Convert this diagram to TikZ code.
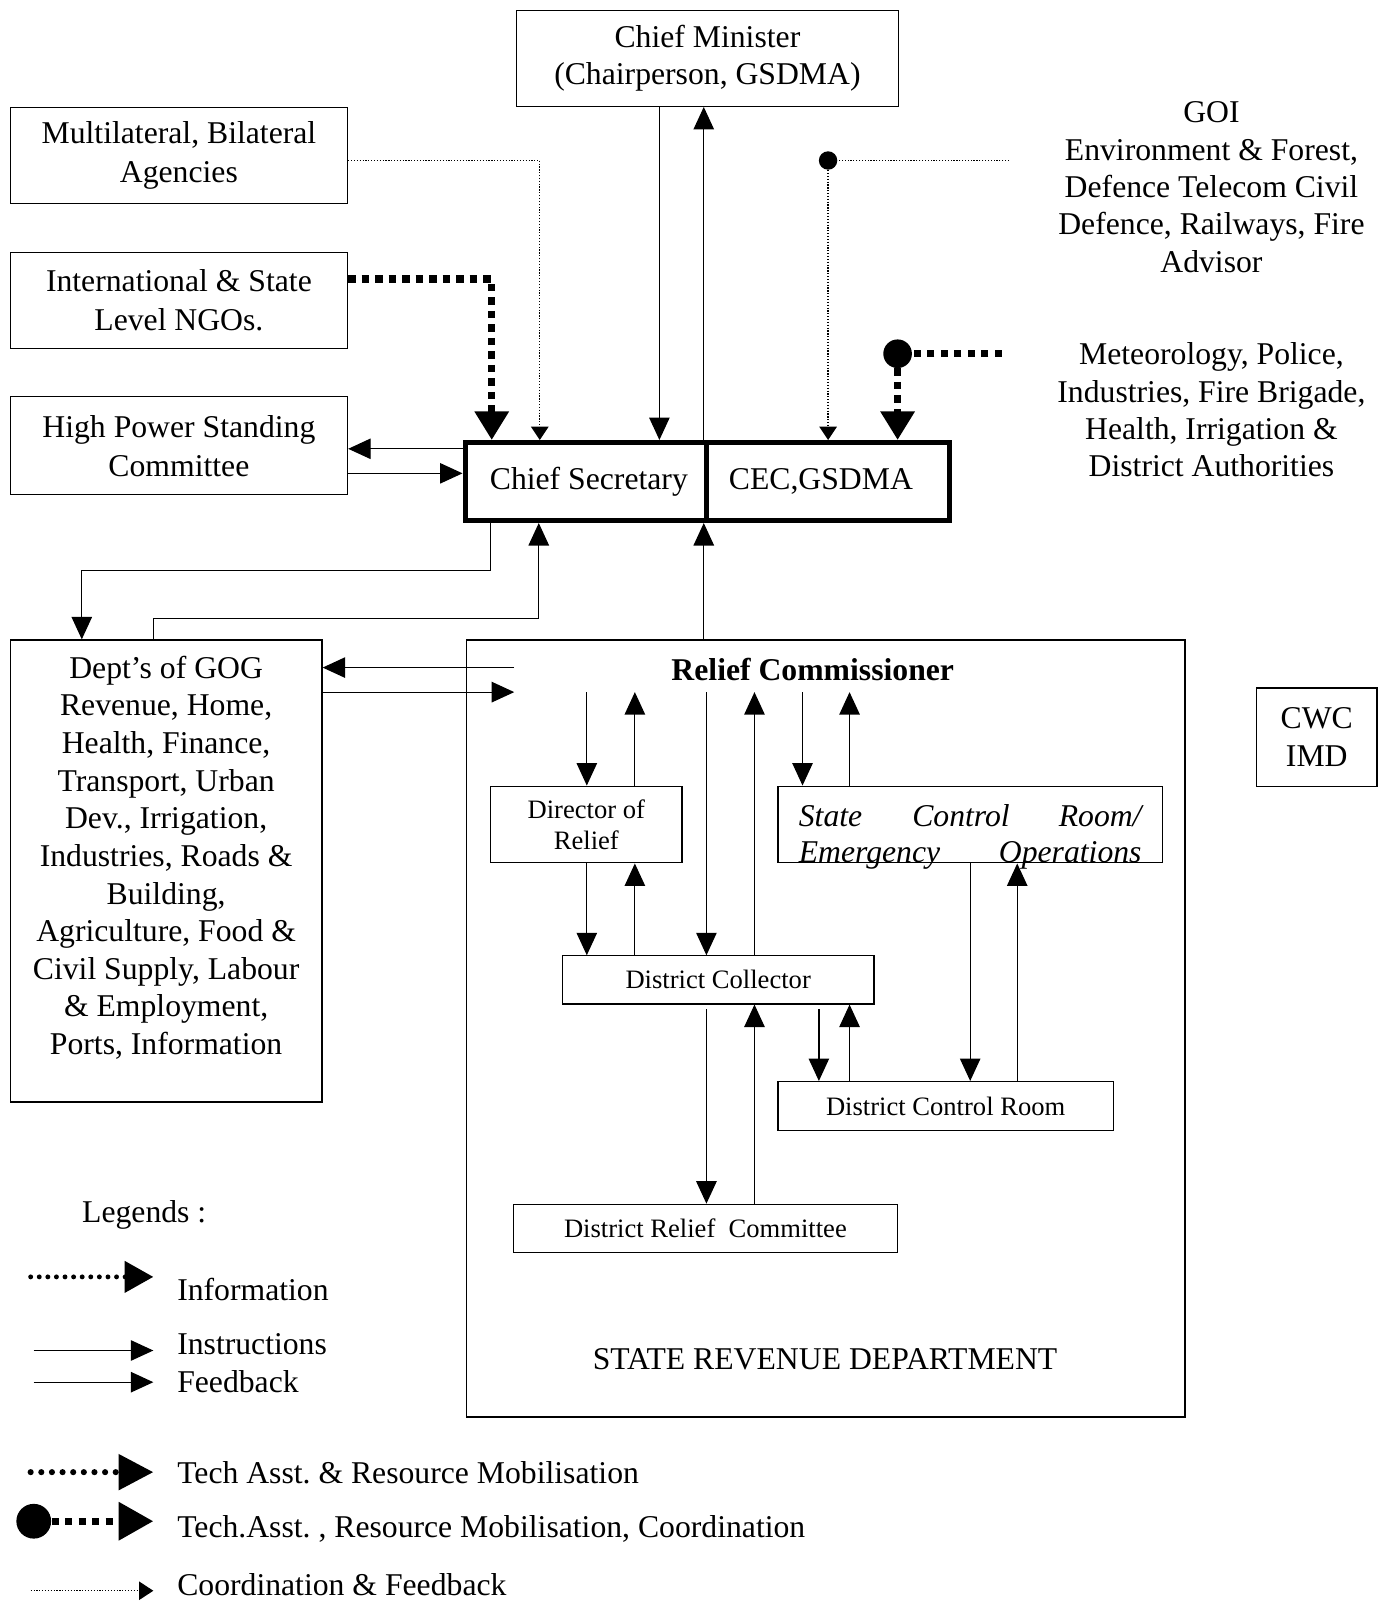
\documentclass[tikz,border=0pt]{standalone}
\usepackage{fontspec}
\setmainfont{Liberation Serif}
\usetikzlibrary{arrows.meta}
\newcommand{\mainfs}{\fontsize{15.5pt}{18.4pt}\selectfont}
\newcommand{\smallfs}{\fontsize{13pt}{15pt}\selectfont}
\frenchspacing
\begin{document}
\frenchspacing
\begin{tikzpicture}[x=0.5pt,y=-0.5pt,
  box/.style={draw, line width=0.6pt, inner sep=0pt, align=center, font=\mainfs},
  sbox/.style={box, font=\smallfs},
  tbox/.style={draw, line width=2.6pt, inner sep=0pt, align=center, font=\mainfs},
  txt/.style={inner sep=0pt, align=center, font=\mainfs},
  dot/.style={circle, fill, inner sep=0pt, minimum size=9pt},
  arr/.style={line width=0.6pt, -{Triangle[length=11pt,width=10pt]}},
  coordline/.style={line width=0.65pt, dash pattern=on 0.6pt off 0.8pt},
  coordarr/.style={coordline, -{Triangle[length=6.5pt,width=8.5pt]}},
  techline/.style={line width=3.6pt, dash pattern=on 3.6pt off 3pt},
  techarr/.style={techline, -{Triangle[length=14pt,width=16pt]}},
  infoline/.style={line width=2.4pt, line cap=round, dash pattern=on 0pt off 4.2pt},
]
\useasboundingbox (0,0) rectangle (1355,1568);

% helper x positions
\foreach \xx in {480,481,527,528,574,621,645,691,738,785,801,831,949,995}
  \coordinate (X\xx) at (\xx,0);
\coordinate (rcl) at (0,677);
\coordinate (dcl) at (0,987);

% top boxes
\node[box, minimum width=187pt, minimum height=47pt] (cm) at (692,57) {Chief Minister\\(Chairperson, GSDMA)};
\node[box, minimum width=165pt, minimum height=47pt, font=\fontsize{15.5pt}{19pt}\selectfont] (multi) at (175,152) {Multilateral, Bilateral\\Agencies};
\node[box, minimum width=165pt, minimum height=47pt, font=\fontsize{15.5pt}{19pt}\selectfont] (ngo) at (175,294) {International \& State\\Level NGOs.};
\node[box, minimum width=165pt, minimum height=48pt, font=\fontsize{15.5pt}{19pt}\selectfont] (hpsc) at (175,436) {High Power Standing\\Committee};
\node[tbox, minimum width=118pt, minimum height=38pt] (cs) at (573,471) {\hspace*{3pt}Chief Secretary};
\node[tbox, minimum width=119pt, minimum height=38pt] (cec) at (810,471) {CEC,GSDMA\hspace*{7pt}};

\node[txt, font=\fontsize{15.5pt}{18.3pt}\selectfont] (goi) at (1185,183) {GOI\\Environment \& Forest,\\Defence Telecom Civil\\Defence, Railways, Fire\\Advisor};
\node[txt, font=\fontsize{15.5pt}{18.2pt}\selectfont] (met) at (1185,401) {Meteorology, Police,\\Industries, Fire Brigade,\\Health, Irrigation \&\\District Authorities};

% Dept's of GOG
\node[box, minimum width=152.5pt, minimum height=226pt] (dept) at (162.5,852) {};
\node[txt] (depttxt) at (162.5,839) {Dept’s of GOG\\Revenue, Home,\\Health, Finance,\\Transport, Urban\\Dev., Irrigation,\\Industries, Roads \&\\Building,\\Agriculture, Food \&\\Civil Supply, Labour\\\& Employment,\\Ports, Information};

% State revenue department
\node[box, minimum width=351.5pt, minimum height=380pt] (srd) at (807.5,1006) {};
\node[txt, font=\mainfs\bfseries] (rc) at (795,655) {Relief Commissioner};
\node[txt] (srdt) at (807,1330) {STATE REVENUE DEPARTMENT};

\node[sbox, minimum width=93.5pt, minimum height=37.5pt] (dor) at (573.5,806.5) {Director of\\Relief};
\node[box, minimum width=188pt, minimum height=37.5pt] (scr) at (949,806.5) {};
\node[txt, font=\mainfs\itshape, anchor=base west] (scr1) at (781,808) {State};
\node[txt, font=\mainfs\itshape, anchor=base] (scr2) at (940,808) {Control};
\node[txt, font=\mainfs\itshape, anchor=base east] (scr3) at (1117,808) {Room/};
\node[txt, font=\mainfs\itshape, anchor=base west] (scr4) at (781,844) {Emergency};
\node[txt, font=\mainfs\itshape, anchor=base east] (scr5) at (1117,844) {Operations};
\node[sbox, minimum width=152.5pt, minimum height=23.5pt] (dc) at (702.5,958.5) {District Collector};
\node[sbox, minimum width=164pt, minimum height=24pt] (dcr) at (925,1082) {District Control Room};
\node[sbox, minimum width=188pt, minimum height=23.5pt] (drc) at (690,1201.5) {District Relief\ \ Committee};

\node[box, minimum width=59pt, minimum height=48pt, font=\fontsize{15.5pt}{19pt}\selectfont] (cwc) at (1288,721) {CWC\\IMD};

% connectors top
\draw[coordarr] ([yshift=-2.5pt]multi.east) -| (cs.north -| X528);
\draw[techarr] ([yshift=10.5pt]ngo.east) -| (cs.north -| X481);
\draw[arr] (cm.south -| X645) -- (cs.north -| X645);
\draw[arr] (cec.north west) -- (cm.south -| cec.north west);
\coordinate (gend) at (987,157);
\node[dot] (gdot) at (810,157) {};
\draw[coordline] (gend) -- (gdot);
\draw[coordarr] (gdot) -- (cec.north -| gdot);
\coordinate (mend) at (980,346);
\node[dot, minimum size=14pt] (mdot) at (878,346) {};
\draw[techline] (mend) -- (mdot);
\draw[techarr] (mdot) -- (cec.north -| mdot);
\draw[arr] ([yshift=16pt]cs.west) -- ([yshift=16pt]cs.west -| hpsc.east);
\draw[arr] ([yshift=4pt]cs.west -| hpsc.east) -- ([yshift=4pt]cs.west);

\coordinate (t1) at (80,558);
\draw[arr] (cs.south -| X480) |- (t1) -- (dept.north -| t1);
\coordinate (t2) at (150,605);
\coordinate (t3) at (527,605);
\draw[arr] (dept.north -| t2) -- (t2) -- (t3) -- (cs.south -| t3);
\draw[arr] (srd.north -| cec.south west) -- (cec.south west);

\coordinate (r1) at (503,653);
\coordinate (r2) at (503,677);
\draw[arr] (r1) -- (dept.east |- r1);
\draw[arr] (dept.east |- r2) -- (r2);

% inner connectors
\draw[arr] (rcl -| X574) -- (dor.north -| X574);
\draw[arr] (dor.north -| X621) -- (rcl -| X621);
\draw[arr] (rcl -| X691) -- (dc.north -| X691);
\draw[arr] (dc.north -| X738) -- (rcl -| X738);
\draw[arr] (rcl -| X785) -- (scr.north -| X785);
\draw[arr] (scr.north -| X831) -- (rcl -| X831);
\draw[arr] (dor.south -| X574) -- (dc.north -| X574);
\draw[arr] (dc.north -| X621) -- (dor.south -| X621);
\draw[arr] (dcl -| X801) -- (dcr.north -| X801);
\draw[arr] (dcr.north -| X831) -- (dc.south -| X831);
\draw[arr] (scr.south -| X949) -- (dcr.north -| X949);
\draw[arr] (dcr.north -| X995) -- (scr.south -| X995);
\draw[arr] (dcl -| X691) -- (drc.north -| X691);
\draw[arr] (drc.north -| X738) -- (dc.south -| X738);

% legends
\node[txt, anchor=west] (lgh) at (80,1188) {Legends :};
\coordinate (la1) at (30,1249); \coordinate (la2) at (150,1249);
\draw[infoline, -{Triangle[length=14pt,width=15pt]}] (la1) -- (la2);
\node[txt, anchor=west] (lta) at (173,1261) {Information};
\coordinate (lb1) at (33,1321); \coordinate (lb2) at (150,1321);
\draw[arr] (lb1) -- (lb2);
\node[txt, anchor=west] (ltb) at (173,1315) {Instructions};
\coordinate (lc1) at (33,1352); \coordinate (lc2) at (150,1352);
\draw[arr] (lc1) -- (lc2);
\node[txt, anchor=west] (ltc) at (173,1351) {Feedback};
\coordinate (ld1) at (30,1440); \coordinate (ld2) at (150,1440);
\draw[infoline, line width=3pt, dash pattern=on 0pt off 5.2pt, -{Triangle[length=17pt,width=17pt]}] (ld1) -- (ld2);
\node[txt, anchor=west] (ltd) at (173,1441) {Tech Asst. \& Resource Mobilisation};
\node[dot, minimum size=17pt] (ledot) at (33,1488) {};
\coordinate (le2) at (150,1488);
\draw[techline, -{Triangle[length=17pt,width=18pt]}] (ledot) -- (le2);
\node[txt, anchor=west] (lte) at (173,1496) {Tech.Asst. , Resource Mobilisation, Coordination};
\coordinate (lf1) at (30,1556); \coordinate (lf2) at (150,1556);
\draw[coordline, -{Triangle[length=7pt,width=9pt]}] (lf1) -- (lf2);
\node[txt, anchor=west] (ltf) at (173,1550) {Coordination \& Feedback};
\end{tikzpicture}
\end{document}
